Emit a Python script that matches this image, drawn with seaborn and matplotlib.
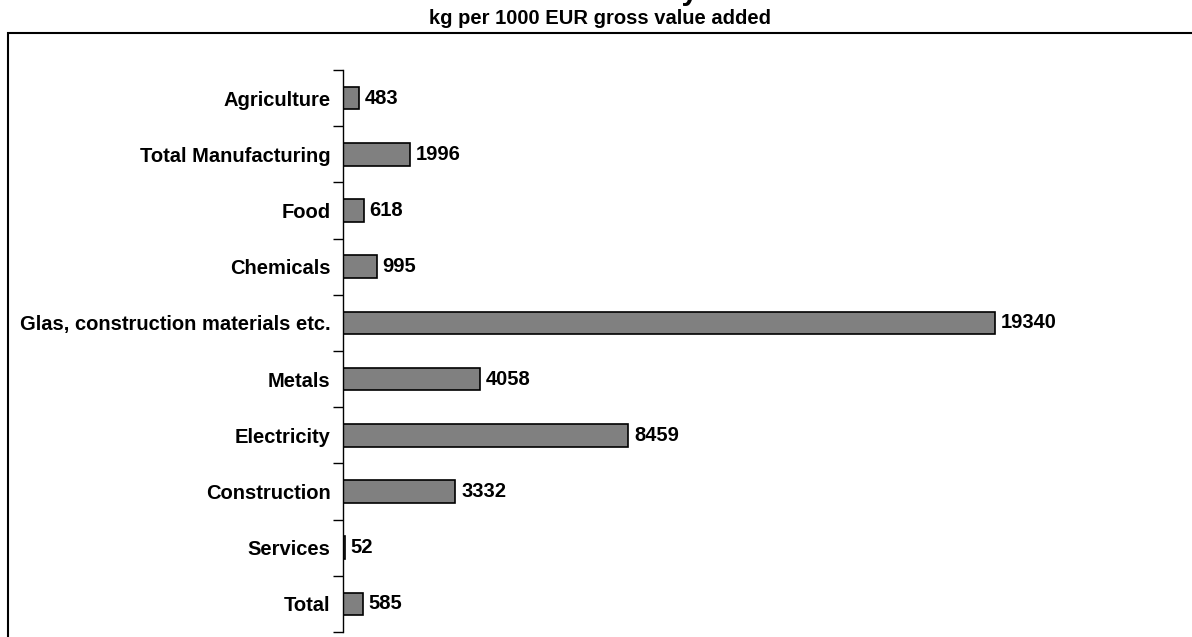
import matplotlib
matplotlib.use("Agg")
import matplotlib.pyplot as plt
import seaborn as sns
import pandas as pd
from matplotlib.patches import Rectangle

# 数据
sectors = ['Agriculture', 'Total Manufacturing', 'Food', 'Chemicals',
           'Glas, construction materials etc.', 'Metals', 'Electricity',
           'Construction', 'Services', 'Total']
values = [483, 1996, 618, 995, 19340, 4058, 8459, 3332, 52, 585]

df = pd.DataFrame({'sector': sectors, 'value': values})

sns.set_style('white')
plt.rcParams['font.family'] = ['Liberation Sans', 'DejaVu Sans']
plt.rcParams['font.weight'] = 'bold'
plt.rcParams['text.color'] = 'black'
plt.rcParams['ytick.color'] = 'black'
plt.rcParams['ytick.labelcolor'] = 'black'

fig = plt.figure(figsize=(11.92, 6.37), dpi=100)
ax = fig.add_axes([343 / 1192, 5 / 637, 842.8 / 1192, 562 / 637])

sns.barplot(data=df, y='sector', x='value', orient='h', color='#808080',
            saturation=1, edgecolor='black', linewidth=1.2, width=0.4, ax=ax)

ax.set_xlim(0, 25000)
ax.set_ylim(len(sectors) - 0.5, -0.5)

# 数值标签
for i, v in enumerate(values):
    ax.text(v + 170, i, str(v), va='center', ha='left', fontsize=14.5,
            fontweight='bold', color='black')

# 坐标轴样式
for s in ['top', 'right', 'bottom']:
    ax.spines[s].set_visible(False)
ax.spines['left'].set_color('black')
ax.spines['left'].set_linewidth(1)
ax.set_xticks([])
ax.set_xlabel('')
ax.set_ylabel('')
ax.set_yticks(range(len(sectors)))
ax.set_yticklabels(sectors, fontsize=14.5, fontweight='bold')
ax.tick_params(axis='y', which='major', length=0, pad=9)
ax.set_yticks([i - 0.5 for i in range(len(sectors) + 1)], minor=True)
ax.tick_params(axis='y', which='minor', left=True, length=7, width=1,
               color='black', direction='out')

# 外框
fig.patches.append(Rectangle((8 / 1192, -0.1), 1.2, (637 - 33) / 637 + 0.1,
                             transform=fig.transFigure, fill=False,
                             edgecolor='black', linewidth=1.5))

# 标题（被裁切）
fig.text(600 / 1192, 1.0 + 1.5 / 637, 'CO2 Intensity', ha='center', va='baseline',
         fontsize=22, fontweight='bold')
fig.text(600 / 1192, (637 - 18) / 637, 'kg per 1000 EUR gross value added',
         ha='center', va='center', fontsize=14.5, fontweight='bold')

fig.savefig('out.png', dpi=100)
